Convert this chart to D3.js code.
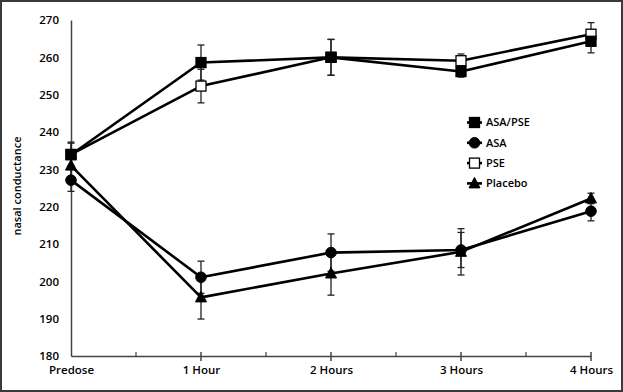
<!DOCTYPE html>
<html><head><meta charset="utf-8">
<script src="https://cdnjs.cloudflare.com/ajax/libs/d3/7.8.5/d3.min.js"></script>
<style>
html,body{margin:0;padding:0;background:#fff;}
svg text{font-family:"Open Sans","Liberation Sans",sans-serif;font-weight:600;fill:#000;}
</style></head>
<body>
<svg id="c" width="623" height="392"></svg>
<script>
const categories = ["Predose","1 Hour","2 Hours","3 Hours","4 Hours"];
const yTicks = [180,190,200,210,220,230,240,250,260,270];
const seriesNames = ["ASA/PSE","ASA","PSE","Placebo"];
const asaPse = [233.9, 258.6, 260.0, 256.2, 264.3];
const asaPseErr = [3.4, 4.7, 4.8, 1.5, 3.1];
const asa = [227.1, 201.1, 207.7, 208.4, 218.8];
const asaErr = [3.0, 4.3, 5.0, 4.7, 2.6];
const pse = [234.0, 252.3, 260.0, 259.1, 266.2];
const pseErr = [3.0, 4.5, 4.8, 1.8, 3.1];
const placebo = [231.0, 195.7, 202.1, 207.9, 222.2];
const placeboErr = [3.0, 5.8, 5.8, 6.2, 1.4];

const series = [
  {name: seriesNames[0], values: asaPse, err: asaPseErr, shape: "square", fill: "#000"},
  {name: seriesNames[1], values: asa, err: asaErr, shape: "circle", fill: "#000"},
  {name: seriesNames[2], values: pse, err: pseErr, shape: "square", fill: "#fff"},
  {name: seriesNames[3], values: placebo, err: placeboErr, shape: "triangle", fill: "#000"}
];

const svg = d3.select("#c");
const W = 623, H = 392;
svg.append("rect").attr("x",1).attr("y",1).attr("width",W-2).attr("height",H-2)
  .attr("fill","#fff").attr("stroke","#3a3a3a").attr("stroke-width",2);

const x = d3.scalePoint().domain(categories).range([71, 591]);
const y = d3.scaleLinear().domain([180, 270]).range([356, 20]);

// y axis
const yAxis = d3.axisLeft(y).tickValues(yTicks).tickSize(0).tickPadding(12);
const gy = svg.append("g").attr("transform","translate(71,0)").call(yAxis);
gy.select(".domain").attr("stroke","#444").attr("stroke-width",1.5);
gy.selectAll("text").style("font-size","11.5px");

// x axis
const xAxis = d3.axisBottom(x).tickSize(0).tickPadding(10);
const gx = svg.append("g").attr("transform","translate(0,356)").call(xAxis);
gx.select(".domain").attr("stroke","#444").attr("stroke-width",1.5);
gx.selectAll("text").style("font-size","11.5px");
categories.forEach((c,i)=>{
  if(i===0) return;
  svg.append("line").attr("x1",x(c)).attr("x2",x(c)).attr("y1",352).attr("y2",361)
    .attr("stroke","#444").attr("stroke-width",1.5);
});
for(let i=0;i<categories.length-1;i++){
  const mx = (x(categories[i])+x(categories[i+1]))/2;
  svg.append("line").attr("x1",mx).attr("x2",mx).attr("y1",352).attr("y2",356)
    .attr("stroke","#444").attr("stroke-width",1.2);
}

// y label
svg.append("text").attr("transform","translate(21,186) rotate(-90)")
  .attr("text-anchor","middle").style("font-size","11px").text("nasal conductance");

function drawMarker(g, shape, cx, cy, fill){
  if(shape==="square"){
    g.append("rect").attr("x",cx-5).attr("y",cy-5).attr("width",10).attr("height",10)
      .attr("fill",fill).attr("stroke","#000").attr("stroke-width",1.3);
  } else if(shape==="circle"){
    g.append("circle").attr("cx",cx).attr("cy",cy).attr("r",5.3).attr("fill",fill).attr("stroke","#000");
  } else {
    g.append("path").attr("d",`M${cx},${cy-6}L${cx+5.5},${cy+4.5}L${cx-5.5},${cy+4.5}Z`)
      .attr("fill",fill).attr("stroke","#000").attr("stroke-width",1);
  }
}

const line = d3.line().x((d,i)=>x(categories[i])).y(d=>y(d));

// error bars
series.forEach(s=>{
  const g = svg.append("g");
  s.values.forEach((v,i)=>{
    const cx = x(categories[i]);
    const e = s.err[i];
    g.append("line").attr("x1",cx).attr("x2",cx).attr("y1",y(v-e)).attr("y2",y(v+e))
      .attr("stroke","#222").attr("stroke-width",1.3);
    [v-e, v+e].forEach(t=>{
      g.append("line").attr("x1",cx-3.5).attr("x2",cx+3.5).attr("y1",y(t)).attr("y2",y(t))
        .attr("stroke","#222").attr("stroke-width",1.3);
    });
  });
});

// lines
series.forEach(s=>{
  svg.append("path").datum(s.values).attr("d",line).attr("fill","none")
    .attr("stroke","#000").attr("stroke-width",2.6).attr("stroke-linejoin","round");
});
// markers: draw PSE before ASA/PSE so the filled square sits on top
[2,3,1,0].forEach(k=>{
  const s = series[k];
  const g = svg.append("g");
  s.values.forEach((v,i)=> drawMarker(g, s.shape, x(categories[i]), y(v), s.fill));
});

// legend
const leg = svg.append("g");
series.forEach((s,i)=>{
  const ly = 122.5 + i*20.3;
  leg.append("line").attr("x1",467).attr("x2",482).attr("y1",ly).attr("y2",ly)
    .attr("stroke","#000").attr("stroke-width",2.6);
  drawMarker(leg, s.shape, 474.5, ly, s.fill);
  leg.append("text").attr("x",486).attr("y",ly).attr("dy","0.35em")
    .style("font-size","11px").text(s.name);
});
</script>
</body></html>
